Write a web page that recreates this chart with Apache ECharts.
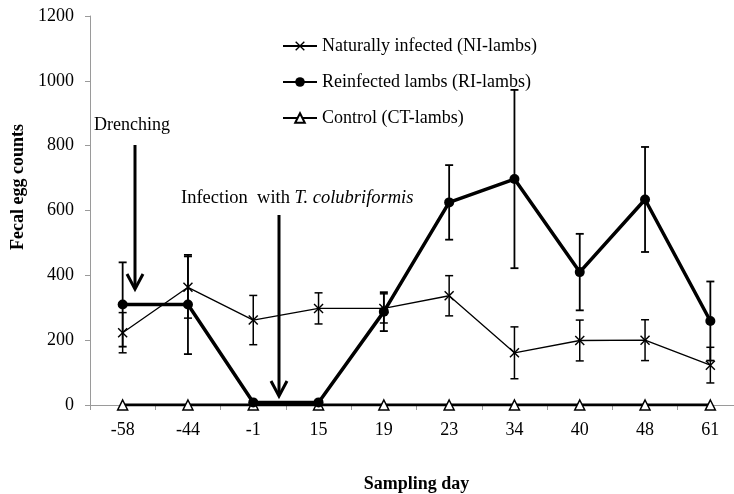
<!DOCTYPE html>
<html><head><meta charset="utf-8">
<script src="https://cdn.jsdelivr.net/npm/echarts@6/dist/echarts.min.js"></script>
<style>html,body{margin:0;padding:0;background:#fff}#c{width:734px;height:494px}</style>
</head><body><div id="c"></div>
<script>
const categories = ['-58','-44','-1','15','19','23','34','40','48','61'];
const niMean = [223,363,262,298,298,337,161,199,200,123];
const niErr  = [62,95,76,48,45,62,80,63,63,55];
const riMean = [310,310,8,8,288,625,697,410,634,259];
const riErr  = [130,153,0,0,60,115,275,118,162,122];
const ctMean = [0,0,0,0,0,0,0,0,0,0];
const yTicks = [0,200,400,600,800,1000,1200];

const FONT = '"Liberation Serif", "Times New Roman", serif';
const FS = 18;
const crossPath = 'path://M0,1L1,0L5,4L9,0L10,1L6,5L10,9L9,10L5,6L1,10L0,9L4,5Z';

function errData(mean, err){ return mean.map((m,i)=>[i, m-err[i], m+err[i]]); }
function errRender(lw){
  return function(params, api){
    const x = api.value(0);
    const lo = api.coord([x, api.value(1)]);
    const hi = api.coord([x, api.value(2)]);
    if (Math.abs(lo[1]-hi[1]) < 1) return;
    const w = 4;
    const st = {stroke:'#000', lineWidth:lw};
    return {type:'group', children:[
      {type:'line', shape:{x1:hi[0],y1:hi[1],x2:lo[0],y2:lo[1]}, style:st},
      {type:'line', shape:{x1:hi[0]-w,y1:hi[1],x2:hi[0]+w,y2:hi[1]}, style:st},
      {type:'line', shape:{x1:lo[0]-w,y1:lo[1],x2:lo[0]+w,y2:lo[1]}, style:st}
    ]};
  };
}

const chart = echarts.init(document.getElementById('c'));
chart.setOption({
  animation:false,
  backgroundColor:'#fff',
  grid:{left:90, top:16, width:653, height:389, outerBoundsMode:'none', containLabel:false},
  legend:{
    orient:'vertical', left:277, top:32, itemGap:18, itemWidth:34, itemHeight:12,
    textStyle:{fontFamily:FONT, fontSize:FS, color:'#000'},
    data:['Naturally infected (NI-lambs)','Reinfected lambs (RI-lambs)','Control (CT-lambs)']
  },
  xAxis:{
    type:'category', data:categories, boundaryGap:true,
    axisLine:{lineStyle:{color:'#9a9a9a', width:1}},
    axisTick:{show:true, length:5, lineStyle:{color:'#9a9a9a'}},
    axisLabel:{fontFamily:FONT, fontSize:FS, color:'#000', margin:16},
    name:'Sampling day', nameLocation:'middle', nameGap:70,
    nameTextStyle:{fontFamily:FONT, fontSize:FS, fontWeight:'bold', color:'#000'}
  },
  yAxis:{
    type:'value', min:0, max:1200, interval:200,
    axisLine:{show:true, lineStyle:{color:'#9a9a9a', width:1}},
    axisTick:{show:true, length:5, lineStyle:{color:'#9a9a9a'}},
    splitLine:{show:false},
    axisLabel:{fontFamily:FONT, fontSize:FS, color:'#000', margin:16,
      formatter:function(v){ return yTicks.indexOf(v)>=0 ? String(v) : ''; }}
  },
  series:[
    {type:'custom', name:'niErr', renderItem:errRender(1.5), data:errData(niMean,niErr), encode:{x:0,y:[1,2]}, z:2, silent:true},
    {type:'custom', name:'riErr', renderItem:errRender(1.8), data:errData(riMean,riErr), encode:{x:0,y:[1,2]}, z:2, silent:true},
    {type:'line', name:'Control (CT-lambs)', data:ctMean, symbol:'triangle', symbolSize:[10,10],
      lineStyle:{color:'#000', width:3}, itemStyle:{color:'#fff', borderColor:'#000', borderWidth:1.5}, z:3},
    {type:'line', name:'Naturally infected (NI-lambs)', data:niMean, symbol:crossPath, symbolSize:10,
      lineStyle:{color:'#000', width:1.3}, itemStyle:{color:'#000'}, z:4},
    {type:'line', name:'Reinfected lambs (RI-lambs)', data:riMean, symbol:'circle', symbolSize:10,
      lineStyle:{color:'#000', width:3.5}, itemStyle:{color:'#000'}, z:5}
  ],
  graphic:[
    {type:'text', x:18, y:187, rotation:Math.PI/2, style:{text:'Fecal egg counts', fontFamily:FONT, fontSize:FS, fontWeight:'bold', fill:'#000', align:'center', verticalAlign:'middle'}},
    {type:'text', left:94, top:116, style:{text:'Drenching', fontFamily:FONT, fontSize:FS, fill:'#000'}},
    {type:'line', shape:{x1:135,y1:145,x2:135,y2:287}, style:{stroke:'#000', lineWidth:3}},
    {type:'polyline', shape:{points:[[127,274],[135,289],[143,274]]}, style:{stroke:'#000', lineWidth:3, fill:null}},
    {type:'text', left:181, top:189, style:{
      rich:{n:{fontFamily:FONT, fontSize:18.5, fill:'#000'}, i:{fontFamily:FONT, fontSize:18.5, fontStyle:'italic', fill:'#000'}},
      text:'{n|Infection  with }{i|T. colubriformis}'}},
    {type:'line', shape:{x1:279,y1:215,x2:279,y2:394}, style:{stroke:'#000', lineWidth:3}},
    {type:'polyline', shape:{points:[[271,381],[279,396],[287,381]]}, style:{stroke:'#000', lineWidth:3, fill:null}}
  ]
});
</script></body></html>
